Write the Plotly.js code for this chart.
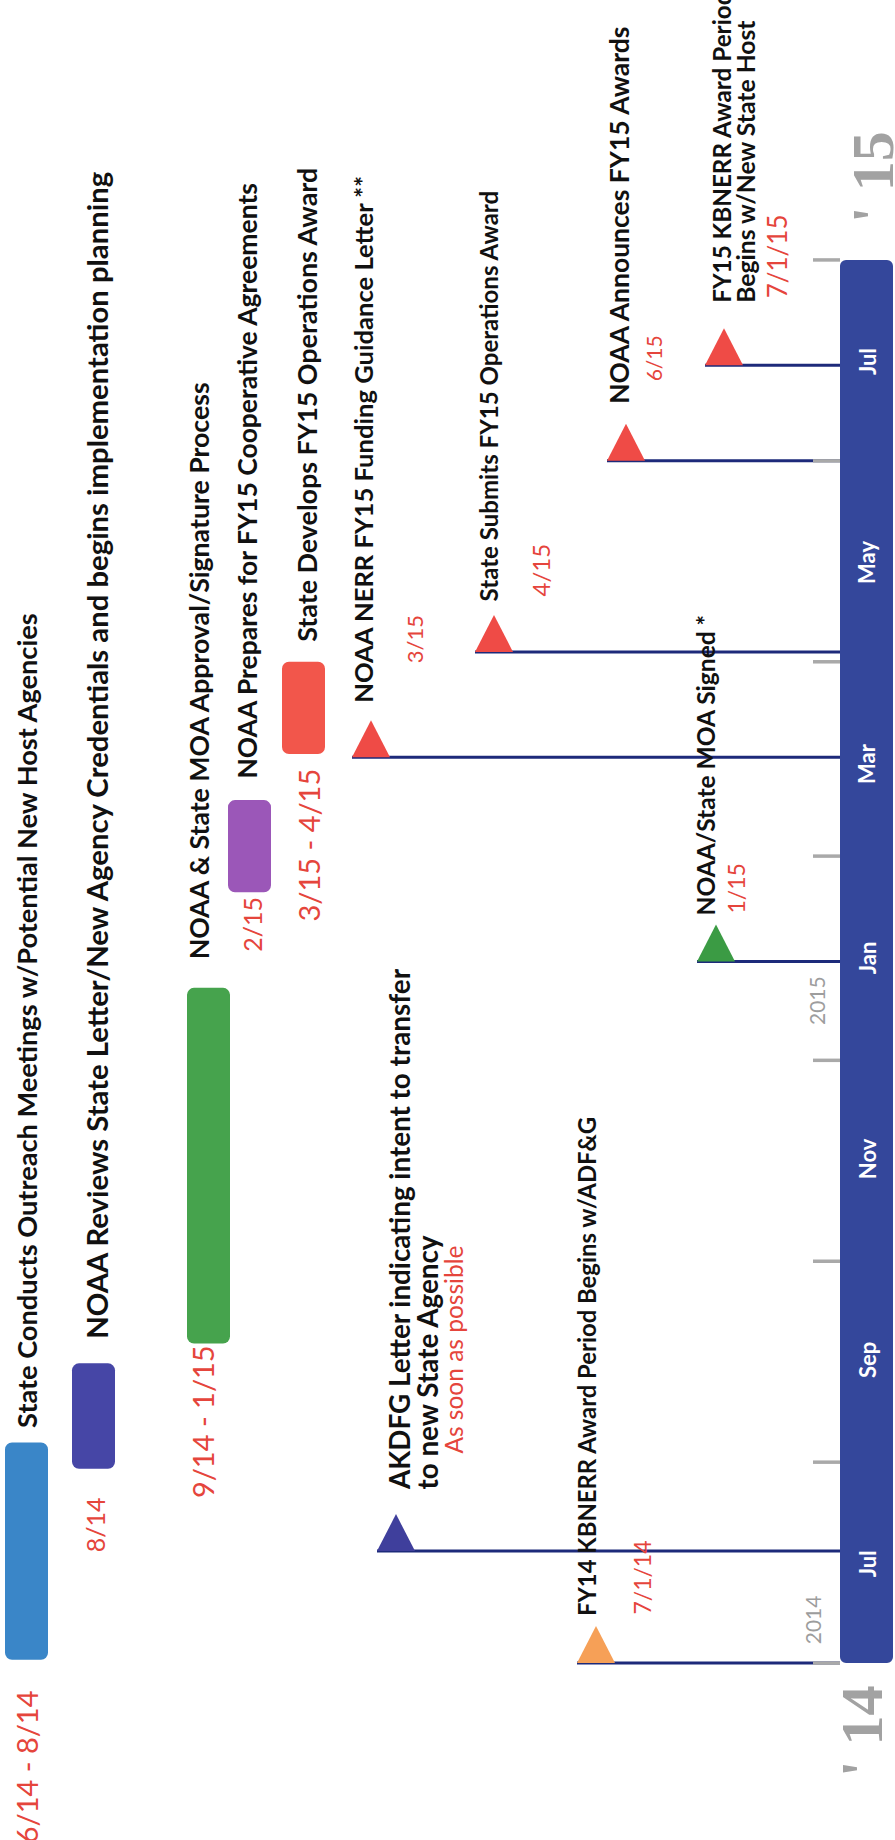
<!DOCTYPE html>
<html><head><meta charset="utf-8">
<script src="https://cdn.plot.ly/plotly-3.0.1.min.js"></script>
<style>html,body{margin:0;padding:0;background:#fff;overflow:hidden}#chart{width:895px;height:1840px}</style>
</head><body><div id="chart"></div>
<script>
// ---------------- data ----------------
const taskNames = [
  'State Conducts Outreach Meetings w/Potential New Host Agencies',
  'NOAA Reviews State Letter/New Agency Credentials and begins implementation planning',
  'NOAA & State MOA Approval/Signature Process',
  'NOAA Prepares for FY15 Cooperative Agreements',
  'State Develops FY15 Operations Award'
];
const taskStart = ['2014-06-02', '2014-07-30', '2014-09-06', '2015-01-21', '2015-03-04'];
const taskEnd   = ['2014-08-07', '2014-08-31', '2014-12-23', '2015-02-18', '2015-04-01'];
const taskDateLabels = ['6/14 - 8/14', '8/14', '9/14 - 1/15', '2/15', '3/15 - 4/15'];

const eventNames = [
  'FY14 KBNERR Award Period Begins w/ADF&G',
  'AKDFG Letter indicating intent to transfer<br>to new State Agency',
  'NOAA/State MOA Signed *',
  'NOAA NERR FY15 Funding Guidance Letter **',
  'State Submits FY15 Operations Award',
  'NOAA Announces FY15 Awards',
  'FY15 KBNERR Award Period<br>Begins w/New State Host'
];
const eventDates = ['2014-06-01', '2014-07-05', '2014-12-31', '2015-03-03', '2015-04-04', '2015-06-01', '2015-06-30'];
const eventDateLabels = ['7/1/14', 'As soon as possible', '1/15', '3/15', '4/15', '6/15', '7/1/15'];

const timelineStart = '2014-06-01';
const timelineEnd = '2015-08-01';
const monthLabels = ['Jul', 'Sep', 'Nov', 'Jan', 'Mar', 'May', 'Jul'];
const monthDates = ['2014-07-01', '2014-09-01', '2014-11-01', '2015-01-01', '2015-03-01', '2015-05-01', '2015-07-01'];
const tickDates = ['2014-06-01', '2014-08-01', '2014-10-01', '2014-12-01', '2015-02-01', '2015-04-01', '2015-06-01', '2015-08-01'];
const yearLabels = ['2014', '2015'];
const yearDates = ['2014-06-14', '2014-12-19'];
const edgeYearLabels = ["' 14", "' 15"];

// ---------------- layout / style ----------------
const W = 895, H = 1840;
const yRange = ['2014-04-08 07:00', '2015-10-18 22:00'];
const FONT = 'Lato, "Open Sans", sans-serif';
const RED = '#e5453c';
const INK = '#111111';
const TITLE_SCALE = 0.97;

const taskX = [26.5, 93.5, 208.5, 249.5, 303.5];
const taskW = 43;
const taskColors = ['#3a86c8', '#4646a6', '#46a34d', '#9b57b8', '#f2564b'];
const taskTitleX = [27, 97, 199, 247, 307];
const taskTitleGap = [14, 24, 28, 21, 20];
const taskTitleSize = [28, 30.2, 27.5, 27.3, 27.7];
const taskLabelX = [26, 95, 202, 252, 309];
const taskLabelGap = [31, 29, 2, 5, 15];
const taskLabelSize = [29, 25, 29, 25, 29];

const eventColors = ['#f6a057', '#3f3f9c', '#3b9b44', '#ef4b46', '#ef4b46', '#ef4b46', '#ef4b46'];
const eventTriX = [577, 377, 697, 352, 475, 607, 705];
const triW = 38, triH = 37;
const eventTitleX = [[586.5], [399, 427.5], [705.5], [363], [488], [619.5], [722, 746]];
const eventTitleGap = [47, 61, 46, 54, 50, 57, 62];
const eventTitleSize = [[24.6], [28.7, 28.7], [25.3], [26.4], [24.8], [27.3], [25, 25.5]];
const eventLabelX = [642.5, 453.5, 736, 414, 540, 653.5, 777];
const eventLabelGap = [48, 97, 48, 94, 55, 79, 67];
const eventLabelSize = [23, 24.5, 23, 22, 24, 21, 26];

const bandX = 866.5, bandW = 53, bandLeft = 840;
const tickX0 = 813;
const monthLabelX = 867;
const yearLabelX = [812, 816];
const edgeYearX = [862, 873];
const edgeYearShift = [-22, 37];

function toMs(s) {
  const parts = s.split(' ');
  return Date.parse(parts[0] + 'T' + (parts[1] || '00:00') + ':00Z');
}
const msPerPx = (toMs(yRange[1]) - toMs(yRange[0])) / H;

const traces = [];

// timeline band
traces.push({
  type: 'bar', x: [bandX], width: [bandW],
  base: [timelineStart], y: [toMs(timelineEnd) - toMs(timelineStart)],
  marker: {color: '#34479b', cornerradius: 6, line: {width: 0}},
  hoverinfo: 'skip', showlegend: false
});
// task bars
traces.push({
  type: 'bar', x: taskX, width: taskX.map(() => taskW),
  base: taskStart, y: taskStart.map((s, i) => toMs(taskEnd[i]) - toMs(s)),
  marker: {color: taskColors, cornerradius: 7, line: {width: 0}},
  hoverinfo: 'skip', showlegend: false
});
// connector lines
const cx = [], cy = [];
eventDates.forEach((d, i) => { cx.push(eventTriX[i], bandLeft, null); cy.push(d, d, null); });
traces.push({type: 'scatter', mode: 'lines', x: cx, y: cy, line: {color: '#1d2a7a', width: 3},
  hoverinfo: 'skip', showlegend: false});
// tick marks
const tx = [], ty = [];
tickDates.forEach(d => { tx.push(tickX0, bandLeft, null); ty.push(d, d, null); });
traces.push({type: 'scatter', mode: 'lines', x: tx, y: ty, line: {color: '#a9a9a9', width: 3.5},
  hoverinfo: 'skip', showlegend: false});
// triangles
eventDates.forEach((d, i) => {
  const b = toMs(d), apex = b + triH * msPerPx, xl = eventTriX[i];
  traces.push({type: 'scatter', mode: 'lines', fill: 'toself', fillcolor: eventColors[i],
    x: [xl, xl + triW, xl + triW / 2, xl], y: [b, b, apex, b],
    line: {width: 0, color: eventColors[i]}, hoverinfo: 'skip', showlegend: false});
});

const ann = [];
function A(o) {
  ann.push(Object.assign({xref: 'x', yref: 'y', showarrow: false, textangle: -90,
    xanchor: 'center', borderpad: 0, borderwidth: 0}, o));
}
taskNames.forEach((t, i) => {
  A({x: taskTitleX[i], y: taskEnd[i], yanchor: 'bottom', yshift: taskTitleGap[i], text: t,
     font: {family: FONT, size: taskTitleSize[i] * TITLE_SCALE, color: INK, weight: 700}});
  A({x: taskLabelX[i], y: taskStart[i], yanchor: 'top', yshift: -taskLabelGap[i], text: taskDateLabels[i],
     font: {family: FONT, size: taskLabelSize[i], color: RED}});
});
eventNames.forEach((t, i) => {
  t.split('<br>').forEach((line, j) => {
    A({x: eventTitleX[i][j], y: eventDates[i], yanchor: 'bottom', yshift: eventTitleGap[i], text: line,
       font: {family: FONT, size: eventTitleSize[i][j] * TITLE_SCALE, color: INK, weight: 700}});
  });
  A({x: eventLabelX[i], y: eventDates[i], yanchor: 'bottom', yshift: eventLabelGap[i], text: eventDateLabels[i],
     font: {family: FONT, size: eventLabelSize[i], color: RED}});
});
monthLabels.forEach((m, i) => {
  A({x: monthLabelX, y: monthDates[i], yanchor: 'middle', text: m,
     font: {family: FONT, size: 22, color: '#ffffff', weight: 700}});
});
yearLabels.forEach((y, i) => {
  A({x: yearLabelX[i], y: yearDates[i], yanchor: 'middle', text: y,
     font: {family: FONT, size: 21, color: '#9d9d9d'}});
});
A({x: edgeYearX[0], y: timelineStart, yanchor: 'top', yshift: edgeYearShift[0], text: edgeYearLabels[0],
   font: {family: '"Liberation Serif", serif', size: 60, color: '#a2a2a2', weight: 700}});
A({x: edgeYearX[1], y: timelineEnd, yanchor: 'bottom', yshift: edgeYearShift[1], text: edgeYearLabels[1],
   font: {family: '"Liberation Serif", serif', size: 60, color: '#a2a2a2', weight: 700}});

const layout = {
  width: W, height: H,
  margin: {l: 0, r: 0, t: 0, b: 0, pad: 0},
  paper_bgcolor: '#ffffff', plot_bgcolor: '#ffffff',
  barmode: 'overlay', showlegend: false,
  xaxis: {range: [0, W], visible: false, fixedrange: true},
  yaxis: {type: 'date', range: yRange, visible: false, fixedrange: true},
  annotations: ann
};
Plotly.newPlot('chart', traces, layout, {staticPlot: true, displayModeBar: false});
</script></body></html>
